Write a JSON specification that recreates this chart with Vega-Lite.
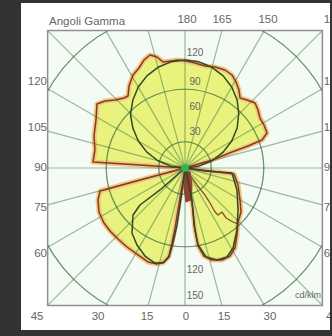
{
"$schema": "https://vega.github.io/schema/vega-lite/v6.json",
"width": 309, "height": 327,
"autosize": {"type": "none"},
"padding": {"left": 21, "top": 3, "right": 2, "bottom": 6},
"background": "#333333",
"config": {"view": {"fill": "#ffffff", "stroke": null}, "font": "Liberation Sans"},
"datasets": {
"frame": [{"x": -157, "x2": 157, "y": -157, "y2": 157}],
"mask": [{"x": -195, "x2": -157, "y": -195, "y2": 195}, {"x": 157, "x2": 175, "y": -195, "y2": 195}, {"x": -195, "x2": 175, "y": 157, "y2": 195}, {"x": -195, "x2": 175, "y": -195, "y2": -157}],
"circles": [{"r": 30}, {"r": 60}, {"r": 90}, {"r": 120}, {"r": 150}, {"r": 180}, {"r": 210}],
"rays": [{"x": 0, "y": 157, "x2": 0, "y2": -157}, {"x": 42.1, "y": 157, "x2": -42.1, "y2": -157}, {"x": 90.6, "y": 157, "x2": -90.6, "y2": -157}, {"x": 157, "y": 157, "x2": -157, "y2": -157}, {"x": 157, "y": 90.6, "x2": -157, "y2": -90.6}, {"x": 157, "y": 42.1, "x2": -157, "y2": -42.1}, {"x": 157, "y": 0, "x2": -157, "y2": 0}, {"x": 157, "y": -42.1, "x2": -157, "y2": 42.1}, {"x": 157, "y": -90.6, "x2": -157, "y2": 90.6}, {"x": 157, "y": -157, "x2": -157, "y2": 157}, {"x": 90.6, "y": -157, "x2": -90.6, "y2": 157}, {"x": 42.1, "y": -157, "x2": -42.1, "y2": 157}],
"brown": [
{"g": "U", "i": 0, "x": 0, "y": 0}, {"g": "U", "i": 1, "x": -51.4, "y": 3.4}, {"g": "U", "i": 2, "x": -105.1, "y": 6.9}, {"g": "U", "i": 3, "x": -102.9, "y": 20.6}, {"g": "U", "i": 4, "x": -104.0, "y": 36.6}, {"g": "U", "i": 5, "x": -101.7, "y": 54.9}, {"g": "U", "i": 6, "x": -100.6, "y": 73.1}, {"g": "U", "i": 7, "x": -91.4, "y": 76.6}, {"g": "U", "i": 8, "x": -80.0, "y": 77.7}, {"g": "U", "i": 9, "x": -69.7, "y": 80.0}, {"g": "U", "i": 10, "x": -65.1, "y": 82.3}, {"g": "U", "i": 11, "x": -64.0, "y": 93.7}, {"g": "U", "i": 12, "x": -59.4, "y": 106.3}, {"g": "U", "i": 13, "x": -52.6, "y": 114.3}, {"g": "U", "i": 14, "x": -46.9, "y": 123.4}, {"g": "U", "i": 15, "x": -40.0, "y": 129.1}, {"g": "U", "i": 16, "x": -32.0, "y": 126.9}, {"g": "U", "i": 17, "x": -25.1, "y": 121.1}, {"g": "U", "i": 18, "x": -16.0, "y": 122.3}, {"g": "U", "i": 19, "x": -8.0, "y": 123.4}, {"g": "U", "i": 20, "x": 1.1, "y": 122.3}, {"g": "U", "i": 21, "x": 11.4, "y": 120.0}, {"g": "U", "i": 22, "x": 22.9, "y": 116.6}, {"g": "U", "i": 23, "x": 34.3, "y": 115.4}, {"g": "U", "i": 24, "x": 45.7, "y": 112.0}, {"g": "U", "i": 25, "x": 53.7, "y": 106.3}, {"g": "U", "i": 26, "x": 58.3, "y": 98.3}, {"g": "U", "i": 27, "x": 61.7, "y": 89.1}, {"g": "U", "i": 28, "x": 62.9, "y": 80.0}, {"g": "U", "i": 29, "x": 70.9, "y": 77.7}, {"g": "U", "i": 30, "x": 80.0, "y": 74.3}, {"g": "U", "i": 31, "x": 83.4, "y": 66.3}, {"g": "U", "i": 32, "x": 85.7, "y": 57.1}, {"g": "U", "i": 33, "x": 90.3, "y": 49.1}, {"g": "U", "i": 34, "x": 93.7, "y": 40.0}, {"g": "U", "i": 35, "x": 88.0, "y": 32.0}, {"g": "U", "i": 36, "x": 72.0, "y": 25.1}, {"g": "U", "i": 37, "x": 53.7, "y": 18.3}, {"g": "U", "i": 38, "x": 30.9, "y": 9.1}, {"g": "U", "i": 39, "x": 11.4, "y": 3.4}, {"g": "U", "i": 40, "x": 0, "y": 0},
{"g": "L", "i": 0, "x": 0, "y": 0}, {"g": "L", "i": 1, "x": -51.4, "y": -13.7}, {"g": "L", "i": 2, "x": -97.1, "y": -26.3}, {"g": "L", "i": 3, "x": -99.4, "y": -36.6}, {"g": "L", "i": 4, "x": -98.3, "y": -50.3}, {"g": "L", "i": 5, "x": -92.6, "y": -62.9}, {"g": "L", "i": 6, "x": -85.7, "y": -72.0}, {"g": "L", "i": 7, "x": -76.6, "y": -81.1}, {"g": "L", "i": 8, "x": -66.3, "y": -90.3}, {"g": "L", "i": 9, "x": -53.7, "y": -99.4}, {"g": "L", "i": 10, "x": -42.3, "y": -107.4}, {"g": "L", "i": 11, "x": -32.0, "y": -109.7}, {"g": "L", "i": 12, "x": -24.0, "y": -107.4}, {"g": "L", "i": 13, "x": -18.3, "y": -100.6}, {"g": "L", "i": 14, "x": -14.9, "y": -85.7}, {"g": "L", "i": 15, "x": -11.4, "y": -68.6}, {"g": "L", "i": 16, "x": -8.0, "y": -48.0}, {"g": "L", "i": 17, "x": -4.6, "y": -27.4}, {"g": "L", "i": 18, "x": -1.1, "y": -9.1}, {"g": "L", "i": 19, "x": 0, "y": 0},
{"g": "R", "i": 0, "x": 0, "y": 0}, {"g": "R", "i": 1, "x": 28.6, "y": -3.4}, {"g": "R", "i": 2, "x": 56.0, "y": -6.9}, {"g": "R", "i": 3, "x": 60.6, "y": -19.4}, {"g": "R", "i": 4, "x": 62.9, "y": -36.6}, {"g": "R", "i": 5, "x": 64.0, "y": -50.3}, {"g": "R", "i": 6, "x": 60.6, "y": -61.7}, {"g": "R", "i": 7, "x": 59.4, "y": -76.6}, {"g": "R", "i": 8, "x": 57.1, "y": -91.4}, {"g": "R", "i": 9, "x": 51.4, "y": -100.6}, {"g": "R", "i": 10, "x": 42.3, "y": -105.1}, {"g": "R", "i": 11, "x": 30.9, "y": -105.1}, {"g": "R", "i": 12, "x": 21.7, "y": -100.6}, {"g": "R", "i": 13, "x": 14.9, "y": -89.1}, {"g": "R", "i": 14, "x": 11.4, "y": -70.9}, {"g": "R", "i": 15, "x": 9.1, "y": -48.0}, {"g": "R", "i": 16, "x": 5.7, "y": -25.1}, {"g": "R", "i": 17, "x": 2.3, "y": -9.1}, {"g": "R", "i": 18, "x": 0, "y": 0}
],
"jag": [{"i": 0, "x": 5.7, "y": -8.0}, {"i": 1, "x": 13.7, "y": -19.4}, {"i": 2, "x": 22.9, "y": -30.9}, {"i": 3, "x": 28.6, "y": -40.0}, {"i": 4, "x": 34.3, "y": -50.3}, {"i": 5, "x": 37.7, "y": -53.7}, {"i": 6, "x": 42.3, "y": -50.3}, {"i": 7, "x": 46.9, "y": -57.1}, {"i": 8, "x": 54.9, "y": -61.7}, {"i": 9, "x": 60.6, "y": -64.0}],
"core": [{"i": 0, "x": 0, "y": -2.3}, {"i": 1, "x": 5.7, "y": -4.6}, {"i": 2, "x": 8.0, "y": -19.4}, {"i": 3, "x": 6.9, "y": -36.6}, {"i": 4, "x": 1.1, "y": -38.9}, {"i": 5, "x": -1.1, "y": -22.9}, {"i": 6, "x": 0, "y": -2.3}],
"green": [
{"g": "C", "i": 0, "x": 0, "y": 0}, {"g": "C", "i": 1, "x": -16.0, "y": 2.1}, {"g": "C", "i": 2, "x": -30.9, "y": 8.3}, {"g": "C", "i": 3, "x": -43.6, "y": 18.1}, {"g": "C", "i": 4, "x": -53.4, "y": 30.8}, {"g": "C", "i": 5, "x": -59.6, "y": 45.7}, {"g": "C", "i": 6, "x": -62.3, "y": 61.2}, {"g": "C", "i": 7, "x": -59.6, "y": 77.7}, {"g": "C", "i": 8, "x": -53.4, "y": 92.6}, {"g": "C", "i": 9, "x": -43.6, "y": 105.3}, {"g": "C", "i": 10, "x": -30.9, "y": 115.1}, {"g": "C", "i": 11, "x": -16.0, "y": 121.3}, {"g": "C", "i": 12, "x": 0, "y": 123.4}, {"g": "C", "i": 13, "x": 16.0, "y": 121.3}, {"g": "C", "i": 14, "x": 30.9, "y": 115.1}, {"g": "C", "i": 15, "x": 43.6, "y": 105.3}, {"g": "C", "i": 16, "x": 53.4, "y": 92.6}, {"g": "C", "i": 17, "x": 59.6, "y": 77.7}, {"g": "C", "i": 18, "x": 61.4, "y": 62.3}, {"g": "C", "i": 19, "x": 59.6, "y": 45.7}, {"g": "C", "i": 20, "x": 53.4, "y": 30.8}, {"g": "C", "i": 21, "x": 43.6, "y": 18.1}, {"g": "C", "i": 22, "x": 30.9, "y": 8.3}, {"g": "C", "i": 23, "x": 16.0, "y": 2.1}, {"g": "C", "i": 24, "x": 0, "y": 0},
{"g": "GL", "i": 0, "x": 0, "y": 0}, {"g": "GL", "i": 1, "x": -28.6, "y": -25.1}, {"g": "GL", "i": 2, "x": -51.4, "y": -42.3}, {"g": "GL", "i": 3, "x": -59.4, "y": -53.7}, {"g": "GL", "i": 4, "x": -60.6, "y": -74.3}, {"g": "GL", "i": 5, "x": -54.9, "y": -88.0}, {"g": "GL", "i": 6, "x": -45.7, "y": -100.6}, {"g": "GL", "i": 7, "x": -34.3, "y": -108.6}, {"g": "GL", "i": 8, "x": -25.1, "y": -108.6}, {"g": "GL", "i": 9, "x": -18.3, "y": -101.7}, {"g": "GL", "i": 10, "x": -13.7, "y": -85.7}, {"g": "GL", "i": 11, "x": -9.1, "y": -65.1}, {"g": "GL", "i": 12, "x": -5.7, "y": -42.3}, {"g": "GL", "i": 13, "x": -2.3, "y": -19.4}, {"g": "GL", "i": 14, "x": 0, "y": 0},
{"g": "GR", "i": 0, "x": 0, "y": 0}, {"g": "GR", "i": 1, "x": 22.9, "y": -3.4}, {"g": "GR", "i": 2, "x": 53.7, "y": -5.7}, {"g": "GR", "i": 3, "x": 59.4, "y": -25.1}, {"g": "GR", "i": 4, "x": 60.6, "y": -48.0}, {"g": "GR", "i": 5, "x": 59.4, "y": -70.9}, {"g": "GR", "i": 6, "x": 54.9, "y": -91.4}, {"g": "GR", "i": 7, "x": 48.0, "y": -101.7}, {"g": "GR", "i": 8, "x": 36.6, "y": -105.1}, {"g": "GR", "i": 9, "x": 24.0, "y": -101.7}, {"g": "GR", "i": 10, "x": 14.9, "y": -88.0}, {"g": "GR", "i": 11, "x": 10.3, "y": -65.1}, {"g": "GR", "i": 12, "x": 8.0, "y": -36.6}, {"g": "GR", "i": 13, "x": 3.4, "y": -13.7}, {"g": "GR", "i": 14, "x": 0, "y": 0}
],
"center": [{"x": 0, "y": 0}],
"labels": [
{"x": -155.4, "y": 167, "t": "Angoli Gamma", "a": "l", "s": 11.5},
{"x": 2.3, "y": 169.1, "t": "180", "a": "c", "s": 11.5},
{"x": 42.3, "y": 169.1, "t": "165", "a": "c", "s": 11.5},
{"x": 94.9, "y": 169.1, "t": "150", "a": "c", "s": 11.5},
{"x": 158.5, "y": 169.1, "t": "135", "a": "l", "s": 11.5},
{"x": -157.7, "y": 98.3, "t": "120", "a": "r", "s": 11.5},
{"x": -157.7, "y": 45.7, "t": "105", "a": "r", "s": 11.5},
{"x": -157.7, "y": 0, "t": "90", "a": "r", "s": 11.5},
{"x": -157.7, "y": -45.7, "t": "75", "a": "r", "s": 11.5},
{"x": -157.7, "y": -98.3, "t": "60", "a": "r", "s": 11.5},
{"x": 158.5, "y": 98.3, "t": "120", "a": "l", "s": 11.5},
{"x": 158.5, "y": 45.7, "t": "105", "a": "l", "s": 11.5},
{"x": 158.5, "y": 0, "t": "90", "a": "l", "s": 11.5},
{"x": 158.5, "y": -45.7, "t": "75", "a": "l", "s": 11.5},
{"x": 158.5, "y": -98.3, "t": "60", "a": "l", "s": 11.5},
{"x": -169.1, "y": -170.3, "t": "45", "a": "c", "s": 11.5},
{"x": -99.4, "y": -170.3, "t": "30", "a": "c", "s": 11.5},
{"x": -43.4, "y": -170.3, "t": "15", "a": "c", "s": 11.5},
{"x": 1.1, "y": -170.3, "t": "0", "a": "c", "s": 11.5},
{"x": 44.6, "y": -170.3, "t": "15", "a": "c", "s": 11.5},
{"x": 97.1, "y": -170.3, "t": "30", "a": "c", "s": 11.5},
{"x": 161, "y": -170.3, "t": "45", "a": "l", "s": 11.5},
{"x": 11.4, "y": 131.4, "t": "120", "a": "c", "s": 10},
{"x": 11.4, "y": 98.3, "t": "90", "a": "c", "s": 10},
{"x": 11.4, "y": 69.7, "t": "60", "a": "c", "s": 10},
{"x": 11.4, "y": 41.1, "t": "30", "a": "c", "s": 10},
{"x": 11.4, "y": -116.6, "t": "120", "a": "c", "s": 10},
{"x": 11.4, "y": -146.3, "t": "150", "a": "c", "s": 10},
{"x": 155.4, "y": -145.1, "t": "cd/klm", "a": "r", "s": 9}
]
},
"layer": [
{"data": {"name": "frame"}, "mark": {"type": "rect", "fill": "#f4faf4"},
 "encoding": {"x": {"field": "x", "type": "quantitative", "scale": {"domain": [-187.43, 165.71], "nice": false, "zero": false}, "axis": null}, "y": {"field": "y", "type": "quantitative", "scale": {"domain": [-185.14, 188.57], "nice": false, "zero": false}, "axis": null}, "x2": {"field": "x2"}, "y2": {"field": "y2"}}},
{"data": {"name": "brown"}, "mark": {"type": "line", "fill": "#e8f27c", "stroke": "#f4c583", "strokeWidth": 5, "strokeJoin": "round"},
 "encoding": {"x": {"field": "x", "type": "quantitative", "scale": {"domain": [-187.43, 165.71], "nice": false, "zero": false}, "axis": null}, "y": {"field": "y", "type": "quantitative", "scale": {"domain": [-185.14, 188.57], "nice": false, "zero": false}, "axis": null}, "detail": {"field": "g"}, "order": {"field": "i", "type": "quantitative"}}},
{"data": {"name": "core"}, "mark": {"type": "line", "fill": "#a3382c", "stroke": "#a3382c", "strokeWidth": 1},
 "encoding": {"x": {"field": "x", "type": "quantitative", "scale": {"domain": [-187.43, 165.71], "nice": false, "zero": false}, "axis": null}, "y": {"field": "y", "type": "quantitative", "scale": {"domain": [-185.14, 188.57], "nice": false, "zero": false}, "axis": null}, "order": {"field": "i", "type": "quantitative"}}},
{"data": {"name": "circles"}, "mark": {"type": "arc", "theta": 0, "theta2": 6.2832, "filled": false, "stroke": "#2f6b3a", "strokeWidth": 1.2, "strokeOpacity": 0.45, "clip": true},
 "encoding": {"x": {"datum": 0, "type": "quantitative", "scale": {"domain": [-187.43, 165.71], "nice": false, "zero": false}, "axis": null}, "y": {"datum": 0, "type": "quantitative", "scale": {"domain": [-185.14, 188.57], "nice": false, "zero": false}, "axis": null}, "radius": {"field": "r", "type": "quantitative", "scale": {"type": "linear", "domain": [0, 157], "range": [0, 137.38], "zero": true}}}},
{"data": {"name": "rays"}, "mark": {"type": "rule", "stroke": "#2f6b3a", "strokeWidth": 1.2, "strokeOpacity": 0.45},
 "encoding": {"x": {"field": "x", "type": "quantitative", "scale": {"domain": [-187.43, 165.71], "nice": false, "zero": false}, "axis": null}, "y": {"field": "y", "type": "quantitative", "scale": {"domain": [-185.14, 188.57], "nice": false, "zero": false}, "axis": null}, "x2": {"field": "x2"}, "y2": {"field": "y2"}}},
{"data": {"name": "mask"}, "mark": {"type": "rect", "fill": "#ffffff", "clip": true},
 "encoding": {"x": {"field": "x", "type": "quantitative", "scale": {"domain": [-187.43, 165.71], "nice": false, "zero": false}, "axis": null}, "y": {"field": "y", "type": "quantitative", "scale": {"domain": [-185.14, 188.57], "nice": false, "zero": false}, "axis": null}, "x2": {"field": "x2"}, "y2": {"field": "y2"}}},
{"data": {"name": "frame"}, "mark": {"type": "rect", "fillOpacity": 0, "stroke": "#8f8f8f", "strokeWidth": 1.5},
 "encoding": {"x": {"field": "x", "type": "quantitative", "scale": {"domain": [-187.43, 165.71], "nice": false, "zero": false}, "axis": null}, "y": {"field": "y", "type": "quantitative", "scale": {"domain": [-185.14, 188.57], "nice": false, "zero": false}, "axis": null}, "x2": {"field": "x2"}, "y2": {"field": "y2"}}},
{"data": {"name": "brown"}, "mark": {"type": "line", "stroke": "#7e3f20", "strokeWidth": 1.5, "strokeJoin": "round"},
 "encoding": {"x": {"field": "x", "type": "quantitative", "scale": {"domain": [-187.43, 165.71], "nice": false, "zero": false}, "axis": null}, "y": {"field": "y", "type": "quantitative", "scale": {"domain": [-185.14, 188.57], "nice": false, "zero": false}, "axis": null}, "detail": {"field": "g"}, "order": {"field": "i", "type": "quantitative"}}},
{"data": {"name": "jag"}, "mark": {"type": "line", "stroke": "#8a4a22", "strokeWidth": 1.3, "strokeJoin": "round"},
 "encoding": {"x": {"field": "x", "type": "quantitative", "scale": {"domain": [-187.43, 165.71], "nice": false, "zero": false}, "axis": null}, "y": {"field": "y", "type": "quantitative", "scale": {"domain": [-185.14, 188.57], "nice": false, "zero": false}, "axis": null}, "order": {"field": "i", "type": "quantitative"}}},
{"data": {"name": "green"}, "mark": {"type": "line", "stroke": "#2f4a27", "strokeWidth": 1.5, "strokeJoin": "round"},
 "encoding": {"x": {"field": "x", "type": "quantitative", "scale": {"domain": [-187.43, 165.71], "nice": false, "zero": false}, "axis": null}, "y": {"field": "y", "type": "quantitative", "scale": {"domain": [-185.14, 188.57], "nice": false, "zero": false}, "axis": null}, "detail": {"field": "g"}, "order": {"field": "i", "type": "quantitative"}}},
{"data": {"name": "center"}, "mark": {"type": "point", "filled": true, "color": "#2fb84a", "size": 60, "opacity": 1},
 "encoding": {"x": {"field": "x", "type": "quantitative", "scale": {"domain": [-187.43, 165.71], "nice": false, "zero": false}, "axis": null}, "y": {"field": "y", "type": "quantitative", "scale": {"domain": [-185.14, 188.57], "nice": false, "zero": false}, "axis": null}}},
{"data": {"name": "labels"}, "transform": [{"filter": "datum.a == 'l'"}], "mark": {"type": "text", "align": "left", "baseline": "middle", "color": "#666666", "clip": true},
 "encoding": {"x": {"field": "x", "type": "quantitative", "scale": {"domain": [-187.43, 165.71], "nice": false, "zero": false}, "axis": null}, "y": {"field": "y", "type": "quantitative", "scale": {"domain": [-185.14, 188.57], "nice": false, "zero": false}, "axis": null}, "text": {"field": "t"}, "size": {"field": "s", "type": "quantitative", "scale": null}}},
{"data": {"name": "labels"}, "transform": [{"filter": "datum.a == 'c'"}], "mark": {"type": "text", "align": "center", "baseline": "middle", "color": "#666666", "clip": true},
 "encoding": {"x": {"field": "x", "type": "quantitative", "scale": {"domain": [-187.43, 165.71], "nice": false, "zero": false}, "axis": null}, "y": {"field": "y", "type": "quantitative", "scale": {"domain": [-185.14, 188.57], "nice": false, "zero": false}, "axis": null}, "text": {"field": "t"}, "size": {"field": "s", "type": "quantitative", "scale": null}}},
{"data": {"name": "labels"}, "transform": [{"filter": "datum.a == 'r'"}], "mark": {"type": "text", "align": "right", "baseline": "middle", "color": "#666666", "clip": true},
 "encoding": {"x": {"field": "x", "type": "quantitative", "scale": {"domain": [-187.43, 165.71], "nice": false, "zero": false}, "axis": null}, "y": {"field": "y", "type": "quantitative", "scale": {"domain": [-185.14, 188.57], "nice": false, "zero": false}, "axis": null}, "text": {"field": "t"}, "size": {"field": "s", "type": "quantitative", "scale": null}}}
]
}
